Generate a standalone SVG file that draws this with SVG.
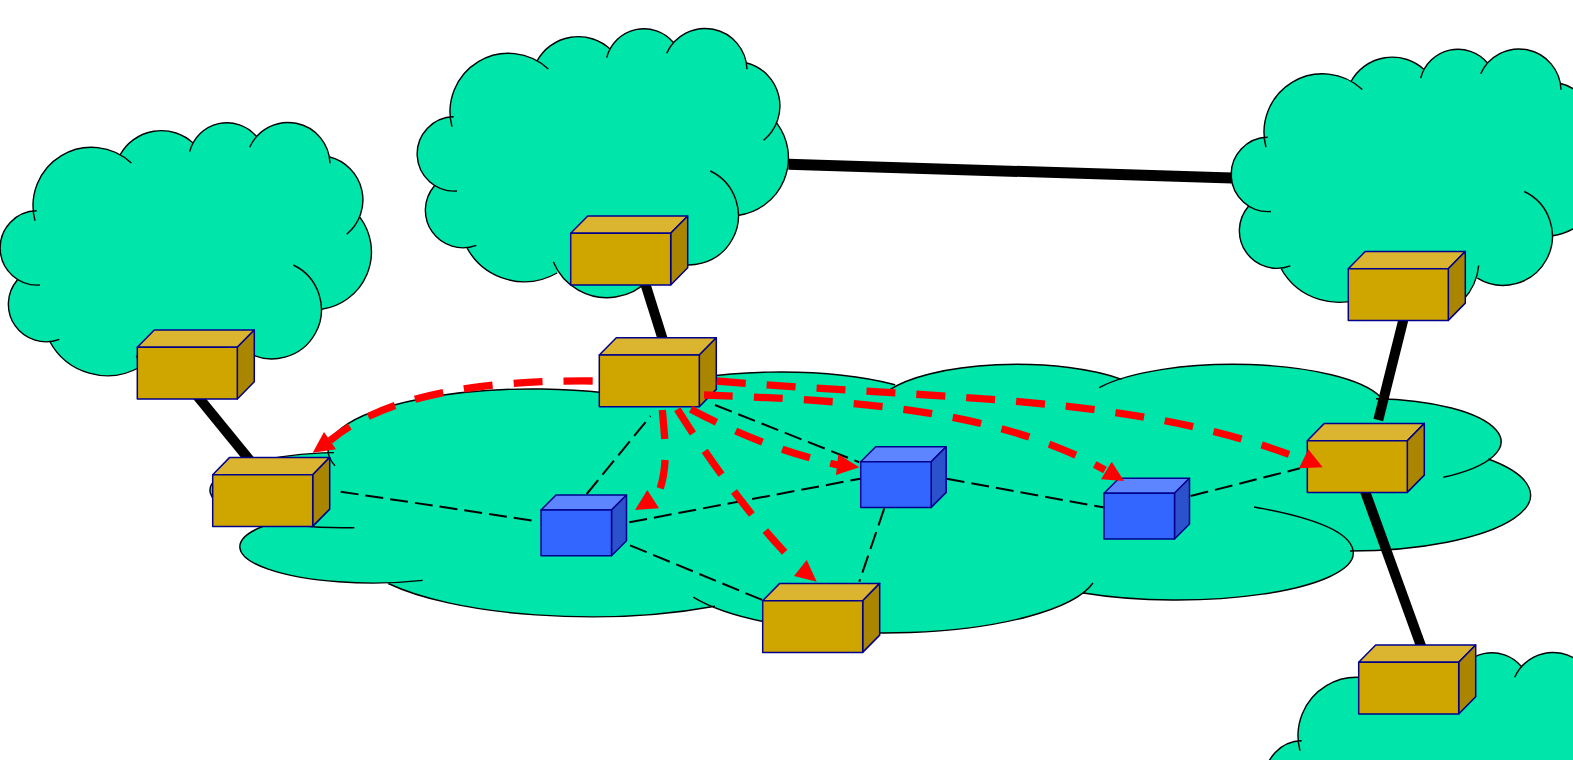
<svg xmlns="http://www.w3.org/2000/svg" width="1573" height="760" viewBox="0 0 1573 760">
<style>
.cl{fill:#00e5aa;stroke:#000;stroke-width:1.4;stroke-linejoin:round}
.clf{fill:#00e5aa;stroke:#00e5aa;stroke-width:1.5;stroke-linejoin:round}
.bar{fill:none;stroke:#000;stroke-width:10}
.dash{fill:none;stroke:#000;stroke-width:2;stroke-dasharray:18 7}
.red{fill:none;stroke:#f00;stroke-width:7.3;stroke-dasharray:29 21}
.arrow{fill:#f00;stroke:none}
.bx{stroke:#00008c;stroke-width:1.5;stroke-linejoin:round}
.gf{fill:#cfa600}.gt{fill:#dbb530}.gs{fill:#a98500}
.bf{fill:#3366ff}.bt{fill:#5c85ff}.bs{fill:#2b52cc}
</style>
<defs>
<g id="cloud">
<polygon class="clf" points="35,220.7 131.3,163 120,155 193.3,143.3 189.7,151.7 256.7,136.7 249.7,147.3 330,163.3 329,156.7 346.7,234.3 360,217.3 321.7,309.3 293.3,265 246.4,351.7 247.7,339 136.3,355.7 140,367 49.5,341 59.3,339.3 17.3,280 40,285 36.7,210.7"/>
<path class="cl" d="M35,220.7A58.4 58.4 0 0 1 131.3,163M120,155A47 47 0 0 1 193.3,143.3M189.7,151.7A38.5 38.5 0 0 1 256.7,136.7M249.7,147.3A42 42 0 0 1 330,163.3M329,156.7A44.5 44.5 0 0 1 346.7,234.3M360,217.3A58 58 0 0 1 321.7,309.3M293.3,265A49.35 49.35 0 1 1 246.4,351.7M247.7,339A58 58 0 0 1 136.3,355.7M140,367A65.5 65.5 0 0 1 49.5,341M59.3,339.3A37.5 37.5 0 0 1 17.3,280M40,285A37.2 37.2 0 1 1 36.7,210.7"/>
</g>
<g id="router" class="bx">
<polygon class="gt" points="0,0 17,-17.3 117,-17.3 100,0"/>
<polygon class="gs" points="100,0 117,-17.3 117,34.4 100,51.7"/>
<rect class="gf" width="100" height="51.7"/>
</g>
<g id="switch" class="bx">
<polygon class="bt" points="0,0 15,-15 85.5,-15 70.5,0"/>
<polygon class="bs" points="70.5,0 85.5,-15 85.5,30.7 70.5,45.7"/>
<rect class="bf" width="70.5" height="45.7"/>
</g>
</defs>
<rect width="1573" height="760" fill="#fff"/>
<g id="cloud-left"><use href="#cloud"/></g>
<g id="cloud-top" transform="translate(417,-94)"><use href="#cloud"/></g>
<g id="cloud-right" transform="translate(1231,-73.5)"><use href="#cloud"/></g>
<g id="cloud-bottom" transform="translate(1265,530)"><use href="#cloud"/></g>
<g id="cloud-core">
<polygon class="clf" points="335,465.8 660,402.1 650,389 895,384.7 889.3,390 1121.7,379.3 1099.3,387.6 1380,396.5 1376,398.7 1443.3,477.3 1488.3,459 1350,551 1254,507 1083.3,593 1093,583 693.3,597.2 715,606.2 388.3,583.5 422.7,580.4 265,525.5 354.3,527.7 334,452.6"/>
<path class="cl" d="M335,465.8A205 61 0 0 1 660,402.1M650,389A173 50 0 0 1 895,384.7M889.3,390A141 45 0 0 1 1121.7,379.3M1099.3,387.6A153 45 0 0 1 1380,396.5M1376,398.7A131 43 0 0 1 1443.3,477.3M1488.3,459A180.7 56 0 0 1 1350,551M1254,507C1305,516 1353.3,530 1353.3,553.3A176.6 46.7 0 0 1 1083.3,593M1093,583A212.6 63 0 0 1 693.3,597.2M715,606.2A237 70 0 0 1 388.3,583.5M422.7,580.4A133 36.3 0 0 1 265,525.5M354.3,527.7A134 37.6 0 0 1 334,452.6"/>
</g>
<g id="connectors">
<path class="bar" style="stroke-width:11" d="M788.5,164.3L1232,178"/>
<path class="bar" d="M640,267L668,356"/>
<path class="bar" d="M190,387L252,463"/>
<path class="bar" d="M1403.3,320L1378.3,420"/>
<path class="bar" d="M1362,483L1425,657"/>
<path class="dash" d="M340.7,491.7L535,521"/>
<path class="dash" d="M586.7,494L650.5,416"/>
<path class="dash" d="M629.3,522.3L860,478.7"/>
<path class="dash" d="M630,545.3L762.3,600"/>
<path class="dash" d="M715,405L859.3,462.3"/>
<path class="dash" d="M884.3,508.3L859.3,581.7"/>
<path class="dash" d="M946.7,478.7L1103.3,507.3"/>
<path class="dash" d="M1190.7,496L1300,468.3"/>
</g>
<g id="router-left" transform="translate(137.3,347.3)"><use href="#router"/></g>
<g id="router-top" transform="translate(570.7,233.3)"><use href="#router"/></g>
<g id="router-center" transform="translate(599.3,355)"><use href="#router"/></g>
<g id="router-west" transform="translate(212.7,474.7)"><use href="#router"/></g>
<g id="router-south" transform="translate(762.7,600.7)"><use href="#router"/></g>
<g id="router-east" transform="translate(1307.3,440.7)"><use href="#router"/></g>
<g id="router-right" transform="translate(1348.3,268.7)"><use href="#router"/></g>
<g id="router-bottom" transform="translate(1358.7,662.3)"><use href="#router"/></g>
<g id="switch-1" transform="translate(541,510)"><use href="#switch"/></g>
<g id="switch-2" transform="translate(860.7,461.7)"><use href="#switch"/></g>
<g id="switch-3" transform="translate(1104,493.3)"><use href="#switch"/></g>
<g id="routes">
<path class="red" d="M592.7,381C480,380 385,395 330,440.6"/>
<polygon class="arrow" points="312.7,452.7 324,432 336,449.3"/>
<path class="red" d="M662.3,410C665,440 668,465 660,489"/>
<polygon class="arrow" points="647.3,490 635,510 659,508.3"/>
<path class="red" d="M677.3,409.3C700,445 740,505 785.7,553.3"/>
<polygon class="arrow" points="806.7,560 794,576 816.7,581.7"/>
<path class="red" d="M690.7,409.3C730,430 780,452 838,465"/>
<polygon class="arrow" points="859.3,467.3 838.3,454.3 836,475"/>
<path class="red" d="M704,395C830,400 990,405 1105,470"/>
<polygon class="arrow" points="1124,481 1111.7,461.7 1101,479.3"/>
<path class="red" d="M716.7,381C950,400 1130,395 1293.3,456"/>
<polygon class="arrow" points="1322.7,467.3 1308.3,449.3 1299,468.3"/>
</g>
</svg>
